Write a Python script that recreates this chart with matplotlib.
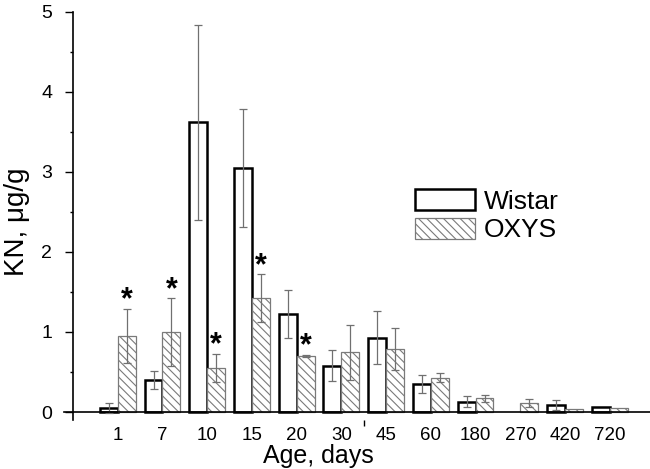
import numpy as np
import matplotlib
matplotlib.use('Agg')
import matplotlib.pyplot as plt
from matplotlib.lines import Line2D

plt.rcParams['font.family'] = ['Liberation Sans', 'DejaVu Sans']
plt.rcParams['hatch.linewidth'] = 0.8

# возраст, дни
ages = ['1', '7', '10', '15', '20', '30', '45', '60', '180', '270', '420', '720']
wistar = [0.05, 0.40, 3.62, 3.05, 1.22, 0.58, 0.93, 0.35, 0.13, 0.0, 0.09, 0.06]
wistar_err = [0.06, 0.11, 1.22, 0.74, 0.30, 0.19, 0.33, 0.11, 0.07, 0.0, 0.06, 0.0]
oxys = [0.95, 1.00, 0.55, 1.42, 0.70, 0.745, 0.79, 0.43, 0.17, 0.11, 0.04, 0.05]
oxys_err = [0.34, 0.42, 0.18, 0.30, 0.01, 0.34, 0.26, 0.06, 0.04, 0.05, 0.0, 0.0]
signif = [True, True, True, True, True, False, False, False, False, False, False, False]

x = np.arange(len(ages))
w = 0.4
wv = np.array(wistar)
ov = np.array(oxys)

fig = plt.figure(figsize=(6.5, 4.69), dpi=100)
ax = fig.add_axes([73/650, 49/469, 577/650, 408/469])

# нулевой столбик (270 дней) не рисуем
nz = wv > 0
ax.bar((x - w/2)[nz], wv[nz], w, facecolor='white', edgecolor='black', linewidth=1.8,
       label='Wistar', zorder=2)
ax.bar(x + w/2, ov, w, facecolor='white', edgecolor='#7a7a7a', linewidth=0.9,
       hatch='\\\\\\\\', label='OXYS', zorder=2)

we = np.array(wistar_err)
oe = np.array(oxys_err)
mw = we > 0
mo = oe > 0
ax.errorbar((x - w/2)[mw], wv[mw], yerr=we[mw], fmt='none',
            ecolor='#707070', elinewidth=0.9, capsize=3, capthick=0.9, zorder=3)
ax.errorbar((x + w/2)[mo], ov[mo], yerr=oe[mo], fmt='none',
            ecolor='#707070', elinewidth=0.9, capsize=3, capthick=0.9, zorder=3)

for i in range(len(ages)):
    if signif[i]:
        ax.text(x[i] + w/2, oxys[i] + oxys_err[i] - 0.08, '*', ha='center', va='bottom',
                fontsize=22, fontweight='bold')

ax.set_xlim(-1.0, 11.9)
ax.set_ylim(-0.1, 5)
ax.set_yticks([0, 1, 2, 3, 4, 5])
ax.set_yticks(np.arange(0.5, 5, 1), minor=True)
ax.tick_params(axis='y', which='major', direction='out', length=6, width=1,
               labelsize=14, pad=9)
ax.tick_params(axis='y', which='minor', direction='out', length=2.5, width=1)

ax.set_xticks(x)
ax.set_xticklabels(ages)
ax.set_xticks([5.5], minor=True)
ax.tick_params(axis='x', which='major', length=0, labelsize=13.5, pad=5)
ax.tick_params(axis='x', which='minor', direction='out', length=4, width=1)

for s in ['top', 'right']:
    ax.spines[s].set_visible(False)
ax.spines['left'].set_linewidth(1.2)
ax.spines['bottom'].set_visible(False)
ax.add_line(Line2D([-0.016, 1.0], [0, 0], transform=ax.get_yaxis_transform(),
                   color='black', linewidth=1.2, clip_on=False, zorder=4))
ax.xaxis.set_ticks_position('bottom')

ax.set_xlabel('Age, days', fontsize=18)
ax.xaxis.set_label_coords(0.426, -0.059)
ax.set_ylabel('KN, μg/g', fontsize=20)
ax.yaxis.set_label_coords(-0.074, 0.485)

ax.legend(loc='upper left', bbox_to_anchor=(415/650, 1 - 189/469),
          bbox_transform=fig.transFigure, frameon=False, fontsize=19,
          handlelength=2.27, handleheight=0.85, handletextpad=0.35,
          labelspacing=0.15, borderpad=0, borderaxespad=0)

fig.savefig('out.png', dpi=100)
